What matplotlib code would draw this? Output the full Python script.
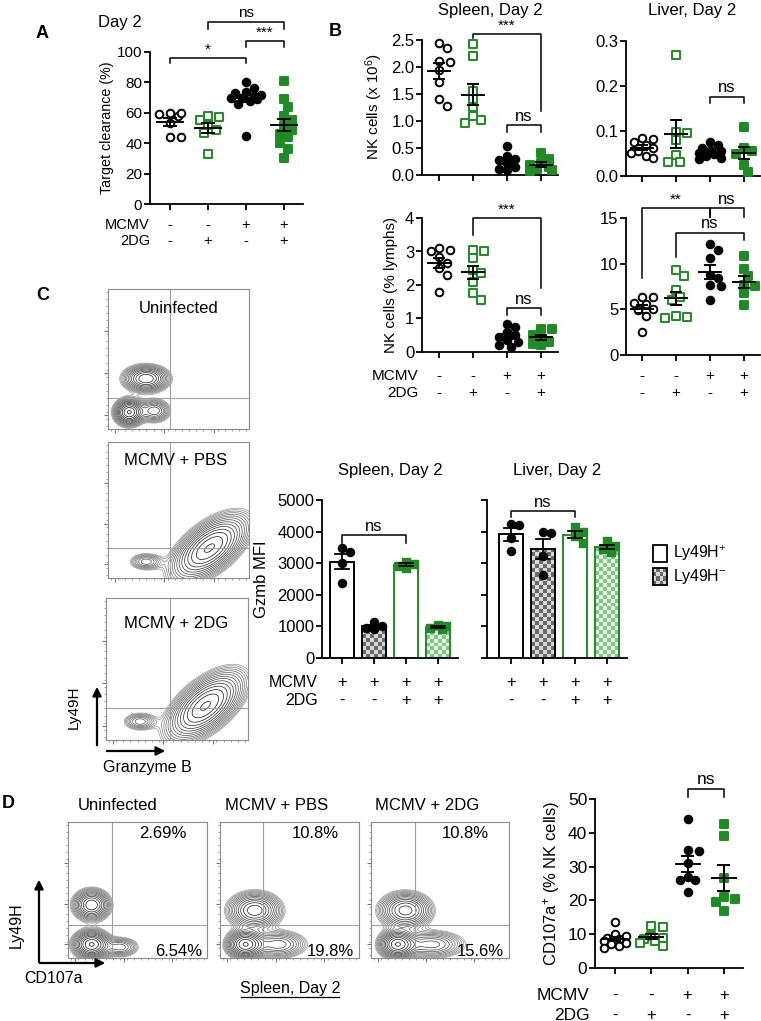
import numpy as np
import matplotlib.pyplot as plt
from matplotlib.patches import Rectangle
from matplotlib.colors import to_rgb

plt.rcParams['font.family'] = ['Liberation Sans', 'DejaVu Sans']
plt.rcParams['mathtext.default'] = 'regular'

W, H = 761, 1021
GREEN = '#1f8b24'

# ---- data ----
MCMV_ROW = ['-', '-', '+', '+']
DG_ROW = ['-', '+', '-', '+']
C_MCMV_ROW = ['+', '+', '+', '+']
C_DG_ROW = ['-', '-', '+', '+']

a_clearance = [
    [60, 59, 58, 60, 53, 44, 44],
    [58, 57, 55, 52, 49, 47, 33],
    [80, 76, 74, 73, 72, 71, 70, 70, 69, 68, 66, 45],
    [81, 69, 64, 58, 55, 51, 49, 46, 44, 40, 36, 30],
]
b_spleen_count = [
    [2.45, 2.35, 2.12, 2.1, 1.95, 1.72, 1.4, 1.27],
    [2.42, 2.2, 1.55, 1.4, 1.25, 1.1, 1.02, 0.97],
    [0.53, 0.35, 0.3, 0.28, 0.22, 0.15, 0.12, 0.1],
    [0.4, 0.3, 0.22, 0.18, 0.15, 0.12, 0.1, 0.08],
]
b_liver_count = [
    [0.085, 0.082, 0.075, 0.068, 0.062, 0.055, 0.05, 0.045, 0.04],
    [0.268, 0.098, 0.095, 0.08, 0.047, 0.03, 0.03],
    [0.075, 0.068, 0.062, 0.058, 0.055, 0.05, 0.048, 0.045, 0.04, 0.038],
    [0.108, 0.062, 0.055, 0.048, 0.025, 0.008],
]
b_spleen_pct = [
    [3.1, 3.05, 3.0, 2.85, 2.65, 2.5, 2.3, 1.8],
    [3.05, 3.0, 2.8, 2.45, 2.35, 2.1, 1.75, 1.55],
    [0.85, 0.75, 0.6, 0.5, 0.45, 0.35, 0.3, 0.2, 0.15],
    [0.7, 0.68, 0.5, 0.4, 0.3, 0.25, 0.2],
]
b_liver_pct = [
    [6.3, 6.3, 5.7, 5.6, 5.0, 4.9, 4.3, 2.5],
    [9.3, 8.6, 7.1, 6.3, 6.0, 4.3, 4.2, 4.1],
    [12.2, 11.5, 10.6, 8.8, 8.4, 7.7, 7.5, 6.0],
    [10.8, 9.4, 8.6, 7.7, 7.5, 6.8, 5.5],
]
c_spleen_gzmb = [
    [3350, 3480, 3000, 2370],
    [1000, 920, 960, 1150],
    [3050, 2980, 2850, 2920],
    [1000, 950, 920, 1030],
]
c_liver_gzmb = [
    [4250, 4200, 3800, 3400],
    [4000, 3950, 3230, 2620],
    [4150, 3990, 3850, 3640],
    [3700, 3550, 3450, 3350],
]
d_cd107a = [
    [13.5, 10, 9.5, 9, 8.5, 8, 7.5, 7, 6.5, 6],
    [12.5, 12, 9.5, 9, 8.5, 8, 7.5, 6.5],
    [44, 35, 34.5, 31, 27, 26, 26, 22.5],
    [42.5, 39, 26.5, 21, 20.5, 19.5, 17],
]
flow_titles = ['Uninfected', 'MCMV + PBS', 'MCMV + 2DG']
d_gate_upper = ['2.69%', '10.8%', '10.8%']
d_gate_lower = ['6.54%', '19.8%', '15.6%']

# contour populations: (x, y, sx, sy, angle, weight) in plot fractions
c_blobs = [
    [(0.27, 0.36, 0.085, 0.05, 0, 0.8), (0.15, 0.12, 0.055, 0.05, 0, 1.0),
     (0.33, 0.13, 0.06, 0.045, 0, 0.45)],
    [(0.72, 0.22, 0.17, 0.085, 40, 1.0), (0.27, 0.12, 0.065, 0.035, 0, 0.3)],
    [(0.70, 0.24, 0.17, 0.085, 40, 1.0), (0.24, 0.13, 0.065, 0.035, 0, 0.3)],
]
d_blobs = [
    [(0.17, 0.39, 0.07, 0.06, 0, 0.8), (0.17, 0.10, 0.07, 0.055, 0, 1.0),
     (0.38, 0.08, 0.07, 0.04, 0, 0.35)],
    [(0.25, 0.35, 0.10, 0.07, 0, 0.8), (0.18, 0.10, 0.07, 0.055, 0, 1.0),
     (0.42, 0.10, 0.11, 0.055, 0, 0.45)],
    [(0.25, 0.35, 0.10, 0.07, 0, 0.8), (0.19, 0.10, 0.07, 0.055, 0, 1.0),
     (0.44, 0.10, 0.13, 0.055, 0, 0.45)],
]

fig = plt.figure(figsize=(W / 100, H / 100), dpi=100)
ov = fig.add_axes([0, 0, 1, 1])
ov.axis('off')
ov.set_zorder(10)


def add_ax(x0, y0, x1, y1):
    return fig.add_axes([x0 / W, 1 - y1 / H, (x1 - x0) / W, (y1 - y0) / H])


def style(ax, fs, lw=1.3):
    for s in ['top', 'right']:
        ax.spines[s].set_visible(False)
    for s in ['left', 'bottom']:
        ax.spines[s].set_linewidth(lw)
    ax.tick_params(width=lw, length=4, labelsize=fs, pad=1.5)


def swarm(vals, ppu, d, cap):
    # horizontal offsets (px) so markers overlap as little as possible within +/- cap
    ys = np.asarray(vals, float) * ppu
    offs = np.zeros(len(ys))
    placed = []
    cands = [0.0]
    k = 1
    while k * 0.45 * d <= cap:
        cands += [k * 0.45 * d, -k * 0.45 * d]
        k += 1
    for idx in np.argsort(-ys):
        best, best_gap = 0.0, -1
        for c in cands:
            gap = min([np.hypot(c - px, ys[idx] - py) for px, py in placed] + [99])
            if gap >= 0.95 * d:
                best = c
                break
            if gap > best_gap:
                best, best_gap = c, gap
        offs[idx] = best
        placed.append((best, ys[idx]))
    return offs


def dot_axes(box, g0, sp, ymax, yticks, fmt, data, fs):
    x0, y0, x1, y1 = box
    ax = add_ax(*box)
    ppu = (y1 - y0) / ymax
    for i, vals in enumerate(data):
        color = 'k' if i % 2 == 0 else GREEN
        marker = 'o' if i % 2 == 0 else 's'
        face = color if i >= 2 else 'white'
        offs = swarm(vals, ppu, 8.5, 0.42 * sp) / sp
        ax.scatter(i + offs, vals, s=30, marker=marker, facecolors=face,
                   edgecolors=color, linewidths=1.4, zorder=3, clip_on=False)
        m = np.mean(vals)
        se = np.std(vals, ddof=1) / np.sqrt(len(vals))
        ax.plot([i - 0.33, i + 0.33], [m, m], 'k', lw=1.4, zorder=4)
        ax.plot([i, i], [m - se, m + se], 'k', lw=1.4, zorder=4)
        for yy in (m - se, m + se):
            ax.plot([i - 0.15, i + 0.15], [yy, yy], 'k', lw=1.4, zorder=4)
    ax.set_xlim((x0 - g0) / sp, (x1 - g0) / sp)
    ax.set_ylim(0, ymax)
    ax.set_xticks(range(4))
    ax.set_xticklabels([])
    ax.set_yticks(yticks)
    ax.set_yticklabels([fmt.format(t) for t in yticks])
    style(ax, fs)
    return ax


def bracket(ax, xa, xb, y, ya, yb, label, fs=11):
    ax.plot([xa, xa, xb, xb], [ya, y, y, yb], 'k', lw=1.1, clip_on=False)
    ax.annotate(label, xy=((xa + xb) / 2, y), xytext=(0, 1.0), textcoords='offset points',
                ha='center', va='bottom', fontsize=fs, annotation_clip=False)


def sign_rows(ax, rows, dys, fs):
    for row, dy in zip(rows, dys):
        for i, s in enumerate(row):
            ax.annotate(s, xy=(i, 0), xycoords=('data', 'axes fraction'),
                        xytext=(0, -dy * 0.72), textcoords='offset points',
                        ha='center', va='center', fontsize=fs, annotation_clip=False)


def checker(ax, x0, x1, yb, yt, nx, ny, dark, light, zorder=1):
    pat = np.add.outer(np.arange(ny), np.arange(nx)) % 2
    img = np.where(pat[..., None] == 1, np.array(to_rgb(dark)), np.array(to_rgb(light)))
    rect = Rectangle((min(x0, x1), min(yb, yt)), abs(x1 - x0), abs(yt - yb),
                     facecolor='none', edgecolor='none')
    ax.add_patch(rect)
    im = ax.imshow(img, extent=(x0, x1, yb, yt), origin='lower', interpolation='nearest',
                   aspect='auto', zorder=zorder)
    im.set_clip_path(rect)


def bar_axes(box, g0, sp, data, labels, fs):
    x0, y0, x1, y1 = box
    ax = add_ax(*box)
    ppu = (y1 - y0) / 5000
    w = 0.75
    for i, vals in enumerate(data):
        color = 'k' if i < 2 else GREEN
        m = np.mean(vals)
        se = np.std(vals, ddof=1) / np.sqrt(len(vals))
        if i % 2 == 1:
            dark, light = ('#6a6a6a', '#d9d9d9') if i < 2 else ('#86c386', '#e3f2e3')
            checker(ax, i - w / 2, i + w / 2, 0, m,
                    int(round(w * sp / 4)), int(round(m * ppu / 4)), dark, light)
            face = 'none'
        else:
            face = 'white'
        ax.bar(i, m, width=w, facecolor=face, edgecolor=color, lw=1.4, zorder=2)
        offs = swarm(vals, ppu, 8.5, 0.3 * sp) / sp
        ax.scatter(i + offs, vals, s=34, marker='o' if i < 2 else 's', color=color,
                   zorder=3, clip_on=False)
        ax.plot([i, i], [m - se, m + se], 'k', lw=1.3, zorder=4)
        for yy in (m - se, m + se):
            ax.plot([i - 0.22, i + 0.22], [yy, yy], 'k', lw=1.3, zorder=4)
    ax.set_xlim((x0 - g0) / sp, (x1 - g0) / sp)
    ax.set_ylim(0, 5000)
    ax.set_xticks(range(4))
    ax.set_xticklabels([])
    ax.set_yticks(range(0, 5001, 1000))
    if not labels:
        ax.set_yticklabels([])
    style(ax, fs)
    return ax


def flow(box, blobs, gx_px, gy_px):
    x0, y0, x1, y1 = box
    ax = add_ax(*box)
    g = np.linspace(0, 1, 260)
    X, Y = np.meshgrid(g, g)
    Z = np.zeros_like(X)
    for cx, cy, sx, sy, ang, wt in blobs:
        a = np.deg2rad(ang)
        u = (X - cx) * np.cos(a) + (Y - cy) * np.sin(a)
        v = -(X - cx) * np.sin(a) + (Y - cy) * np.cos(a)
        Z += wt * np.exp(-0.5 * ((u / sx) ** 2 + (v / sy) ** 2))
    n = 15
    levels = Z.max() * np.geomspace(0.07, 0.97, n)
    cols = [str(c) for c in np.linspace(0.62, 0.1, n)]
    ax.contour(X, Y, Z, levels=levels, colors=cols, linewidths=0.55)
    ax.axvline((gx_px - x0) / (x1 - x0), color='#a0a0a0', lw=0.8)
    ax.axhline((y1 - gy_px) / (y1 - y0), color='#a0a0a0', lw=0.8)
    ax.set_xlim(0, 1)
    ax.set_ylim(0, 1)
    for s in ax.spines.values():
        s.set_color('#8c8c8c')
        s.set_linewidth(0.8)
    ax.set_xticks([0.05, 0.4, 0.75])
    ax.set_yticks([0.1, 0.4, 0.7])
    ax.set_xticks(np.linspace(0.02, 0.98, 20), minor=True)
    ax.set_yticks(np.linspace(0.02, 0.98, 20), minor=True)
    ax.tick_params(which='both', color='#777777', labelleft=False, labelbottom=False)
    ax.tick_params(which='major', length=3, width=0.8)
    ax.tick_params(which='minor', length=1.5, width=0.5)
    return ax


def txt(x, y, s, **kw):
    kw.setdefault('fontsize', 11)
    kw.setdefault('ha', 'center')
    kw.setdefault('va', 'center')
    ov.text(x, y, s, **kw)


# ---- A ----
ax = dot_axes((150, 52, 303, 204), 170, 38, 100, range(0, 101, 20), '{}', a_clearance, 11)
bracket(ax, 0, 2, 96, 93, 93, '*')
bracket(ax, 2, 3, 107, 103, 103, '***')
bracket(ax, 1, 3, 120, 115, 115, 'ns')
sign_rows(ax, [MCMV_ROW, DG_ROW], [21, 37], 10.5)
txt(150, 225, 'MCMV', ha='right', fontsize=10.5)
txt(150, 241, '2DG', ha='right', fontsize=10.5)
txt(98, 23, 'Day 2', ha='left', fontsize=12)
txt(107, 128, 'Target clearance (%)', rotation=90, fontsize=10.3)
txt(42, 33, 'A', fontsize=13, fontweight='bold')

# ---- B ----
ax = dot_axes((422, 40, 558, 175), 439, 34, 2.5, np.arange(0, 2.51, 0.5), '{:.1f}',
              b_spleen_count, 12)
bracket(ax, 1, 3, 2.61, 2.53, 1.19, '***')
bracket(ax, 2, 3, 0.92, 0.79, 0.79, 'ns', 12)
ax = dot_axes((626, 41, 760, 176), 642, 34, 0.3, [0, 0.1, 0.2, 0.3], '{:.1f}',
              b_liver_count, 12)
bracket(ax, 2, 3, 0.176, 0.162, 0.162, 'ns', 12)
ax = dot_axes((422, 218, 558, 352), 439, 34, 4, range(5), '{}', b_spleen_pct, 12)
bracket(ax, 1, 3, 4.0, 3.5, 1.9, '***')
bracket(ax, 2, 3, 1.3, 1.1, 1.1, 'ns', 12)
sign_rows(ax, [MCMV_ROW, DG_ROW], [24, 41], 11)
ax = dot_axes((626, 218, 760, 355), 642, 34, 15, [0, 5, 10, 15], '{}', b_liver_pct, 12)
bracket(ax, 0, 2, 16.1, 8.4, 15.1, '**')
bracket(ax, 2, 3, 16.1, 15.1, 15.1, 'ns', 12)
bracket(ax, 1, 3, 13.4, 10.7, 12.6, 'ns', 12)
sign_rows(ax, [MCMV_ROW, DG_ROW], [21, 38], 11)
txt(418, 376, 'MCMV', ha='right')
txt(418, 393, '2DG', ha='right')
txt(490, 10, 'Spleen, Day 2', fontsize=12)
txt(692, 10, 'Liver, Day 2', fontsize=12)
txt(374, 107, 'NK cells (x 10$^{6}$)', rotation=90, fontsize=11)
txt(391, 285, 'NK cells (% lymphs)', rotation=90, fontsize=11)
txt(335, 31, 'B', fontsize=13, fontweight='bold')

# ---- C ----
c_boxes = [(108, 289, 249, 429), (108, 442, 249, 578), (106, 598, 248, 740)]
c_gate_y = [398, 548, 708]
for box, blobs, gy in zip(c_boxes, c_blobs, c_gate_y):
    flow(box, blobs, 170, gy)
txt(139, 308, flow_titles[0], ha='left', fontsize=12)
txt(124, 460, flow_titles[1], ha='left', fontsize=12)
txt(124, 623, flow_titles[2], ha='left', fontsize=12)
ov.annotate('', xy=(97, 684), xytext=(97, 748),
            arrowprops=dict(arrowstyle='-|>', lw=1.6, color='k', mutation_scale=13))
ov.annotate('', xy=(168, 751), xytext=(104, 751),
            arrowprops=dict(arrowstyle='-|>', lw=1.6, color='k', mutation_scale=13))
txt(74, 707, 'Ly49H', rotation=90, fontsize=11)
txt(103, 767, 'Granzyme B', ha='left', fontsize=11.5)
txt(43, 295, 'C', fontsize=13, fontweight='bold')

ax = bar_axes((322, 500, 458, 658), 342, 32, c_spleen_gzmb, True, 12)
bracket(ax, 0, 2, 3890, 3640, 3640, 'ns', 12)
sign_rows(ax, [C_MCMV_ROW, C_DG_ROW], [24, 42], 12)
ax = bar_axes((487, 500, 627, 658), 511, 32, c_liver_gzmb, False, 12)
bracket(ax, 0, 2, 4650, 4460, 4460, 'ns', 12)
sign_rows(ax, [C_MCMV_ROW, C_DG_ROW], [24, 42], 12)
txt(318, 682, 'MCMV', ha='right', fontsize=11.5)
txt(318, 700, '2DG', ha='right', fontsize=11.5)
txt(390, 470, 'Spleen, Day 2', fontsize=12)
txt(557, 470, 'Liver, Day 2', fontsize=12)
txt(262, 579, 'Gzmb MFI', rotation=90, fontsize=12)

# legend
ov.add_patch(Rectangle((653, 545), 14, 17, facecolor='white', edgecolor='k', lw=1.3))
checker(ov, 653, 667, 568, 585, 4, 4, '#6a6a6a', '#d9d9d9', zorder=2)
ov.add_patch(Rectangle((653, 568), 14, 17, facecolor='none', edgecolor='k', lw=1.3, zorder=3))
txt(673, 553, 'Ly49H$^{+}$', ha='left', fontsize=11.5)
txt(673, 576, 'Ly49H$^{-}$', ha='left', fontsize=11.5)

# ---- D ----
d_boxes = [(68, 822, 207, 958), (220, 822, 359, 958), (371, 822, 509, 958)]
d_gate_x = [112, 263, 415]
d_title_x = [78, 225, 375]
for box, blobs, gx, title, tx, up, lo in zip(d_boxes, d_blobs, d_gate_x, flow_titles,
                                             d_title_x, d_gate_upper, d_gate_lower):
    flow(box, blobs, gx, 925)
    txt(tx, 805, title, ha='left', fontsize=12)
    txt(box[2] - 20, 833, up, ha='right', fontsize=12)
    txt(box[2] - 5, 951, lo, ha='right', fontsize=12)
ov.annotate('', xy=(39, 877), xytext=(39, 965),
            arrowprops=dict(arrowstyle='-|>', lw=1.6, color='k', mutation_scale=13))
ov.annotate('', xy=(108, 963), xytext=(37, 963),
            arrowprops=dict(arrowstyle='-|>', lw=1.6, color='k', mutation_scale=13))
txt(16, 925, 'Ly49H', rotation=90, fontsize=11.5)
txt(24, 978, 'CD107a', ha='left', fontsize=11.5)
txt(290, 988, 'Spleen, Day 2', fontsize=11.5)
ov.plot([241, 339], [997, 997], color='k', lw=0.9)
txt(8, 803, 'D', fontsize=13, fontweight='bold')

ax = dot_axes((595, 799, 743, 968), 615, 36.3, 50, range(0, 51, 10), '{}', d_cd107a, 12.5)
bracket(ax, 2, 3, 53, 50.6, 50.6, 'ns', 12.5)
sign_rows(ax, [MCMV_ROW, DG_ROW], [27, 47], 12)
txt(590, 995, 'MCMV', ha='right', fontsize=12.5)
txt(590, 1015, '2DG', ha='right', fontsize=12.5)
txt(552, 883, 'CD107a$^{+}$ (% NK cells)', rotation=90, fontsize=12)

ov.set_xlim(0, W)
ov.set_ylim(H, 0)

fig.savefig('out.png', dpi=100)
